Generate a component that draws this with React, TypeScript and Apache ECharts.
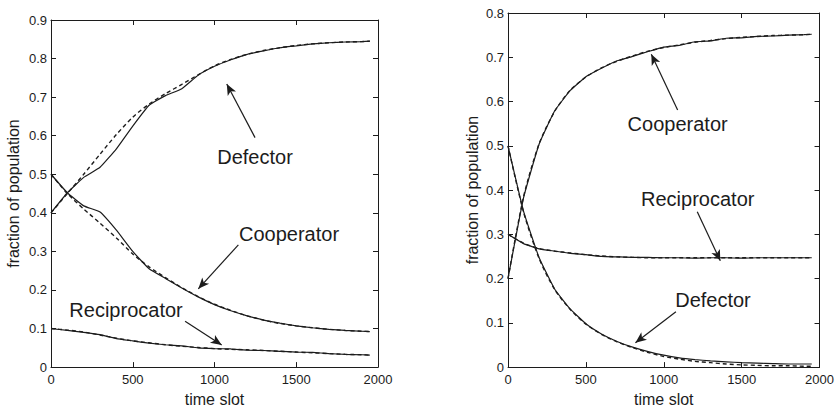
import React, { useEffect, useRef } from "react";
import * as echarts from "echarts";

const times = [0, 100, 200, 300, 400, 500, 600, 700, 800, 900, 1000, 1100, 1200, 1300, 1400, 1500, 1600, 1700, 1800, 1900, 1950];

// Left panel
const defectorModelL = [0.400, 0.450, 0.500, 0.552, 0.603, 0.648, 0.682, 0.709, 0.733, 0.758, 0.781, 0.798, 0.811, 0.821, 0.828, 0.834, 0.838, 0.841, 0.843, 0.844, 0.845];
const defectorSimL = [0.400, 0.452, 0.492, 0.518, 0.566, 0.625, 0.679, 0.704, 0.722, 0.757, 0.780, 0.797, 0.811, 0.820, 0.828, 0.833, 0.838, 0.841, 0.843, 0.844, 0.845];
const cooperatorModelL = [0.500, 0.450, 0.410, 0.373, 0.335, 0.293, 0.260, 0.232, 0.206, 0.183, 0.163, 0.147, 0.133, 0.122, 0.113, 0.107, 0.102, 0.098, 0.095, 0.093, 0.092];
const cooperatorSimL = [0.500, 0.452, 0.418, 0.402, 0.355, 0.300, 0.255, 0.230, 0.205, 0.182, 0.162, 0.146, 0.133, 0.122, 0.114, 0.107, 0.102, 0.098, 0.095, 0.093, 0.092];
const reciprocatorModelL = [0.100, 0.096, 0.091, 0.083, 0.075, 0.068, 0.063, 0.058, 0.054, 0.051, 0.048, 0.046, 0.045, 0.043, 0.041, 0.039, 0.037, 0.035, 0.033, 0.032, 0.031];
const reciprocatorSimL = [0.100, 0.095, 0.090, 0.084, 0.074, 0.068, 0.062, 0.058, 0.055, 0.050, 0.048, 0.047, 0.044, 0.043, 0.041, 0.039, 0.038, 0.035, 0.033, 0.032, 0.031];

// Right panel
const cooperatorModelR = [0.200, 0.385, 0.505, 0.578, 0.626, 0.655, 0.676, 0.691, 0.703, 0.714, 0.722, 0.728, 0.734, 0.738, 0.742, 0.745, 0.747, 0.749, 0.750, 0.751, 0.752];
const cooperatorSimR = [0.200, 0.383, 0.504, 0.579, 0.625, 0.656, 0.675, 0.692, 0.702, 0.713, 0.723, 0.727, 0.735, 0.737, 0.743, 0.744, 0.747, 0.748, 0.750, 0.751, 0.752];
const defectorModelR = [0.500, 0.350, 0.245, 0.175, 0.130, 0.097, 0.074, 0.057, 0.044, 0.033, 0.024, 0.018, 0.013, 0.010, 0.007, 0.005, 0.004, 0.003, 0.003, 0.002, 0.002];
const defectorSimR = [0.500, 0.352, 0.247, 0.176, 0.131, 0.098, 0.075, 0.058, 0.045, 0.035, 0.027, 0.021, 0.017, 0.014, 0.012, 0.010, 0.009, 0.008, 0.007, 0.007, 0.007];
const reciprocatorModelR = [0.300, 0.280, 0.268, 0.262, 0.258, 0.254, 0.251, 0.249, 0.248, 0.247, 0.247, 0.247, 0.247, 0.247, 0.247, 0.247, 0.247, 0.247, 0.247, 0.247, 0.247];
const reciprocatorSimR = [0.300, 0.279, 0.267, 0.262, 0.257, 0.254, 0.250, 0.249, 0.248, 0.248, 0.247, 0.247, 0.246, 0.247, 0.247, 0.246, 0.247, 0.247, 0.247, 0.247, 0.247];

// Annotations (data coordinates): label centre, arrow start, arrow tip
const annotationsL = [
  { text: "Defector", at: [1248, 0.546], from: [1248, 0.595], to: [1075, 0.734] },
  { text: "Cooperator", at: [1456, 0.345], from: [1146, 0.317], to: [901, 0.203] },
  { text: "Reciprocator", at: [459, 0.149], from: [820, 0.119], to: [1044, 0.0575] },
];
const annotationsR = [
  { text: "Cooperator", at: [1089, 0.549], from: [1089, 0.581], to: [920, 0.707] },
  { text: "Reciprocator", at: [1218, 0.38], from: [1215, 0.351], to: [1363, 0.24] },
  { text: "Defector", at: [1316, 0.151], from: [1078, 0.125], to: [818, 0.055] },
];

const FONT = "Liberation Sans, Arial, Helvetica, sans-serif";
const INK = "#1c1c1c";

function pairs(vals: number[]) {
  return times.map((t, i) => [t, vals[i]]);
}

function series(vals: number[], idx: number, model: boolean) {
  return {
    type: "line",
    xAxisIndex: idx,
    yAxisIndex: idx,
    data: pairs(vals),
    showSymbol: false,
    symbol: "none",
    smooth: model ? 0.25 : 0.12,
    silent: true,
    lineStyle: { color: INK, width: model ? 1.4 : 1.2, type: model ? [4, 3] : "solid" },
    z: model ? 3 : 2,
  };
}

function annSeries(anns: any[], idx: number) {
  return {
    type: "line",
    xAxisIndex: idx,
    yAxisIndex: idx,
    data: [],
    silent: true,
    markLine: {
      silent: true,
      symbol: ["none", "arrow"],
      symbolSize: [7, 11],
      label: { show: false },
      lineStyle: { color: INK, width: 1.2, type: "solid" },
      data: anns.map((a) => [{ coord: a.from }, { coord: a.to }]),
    },
    markPoint: {
      silent: true,
      symbol: "circle",
      symbolSize: 0,
      itemStyle: { color: "transparent" },
      label: {
        show: true,
        position: "inside",
        fontSize: 20,
        fontFamily: FONT,
        color: INK,
        formatter: (p: any) => p.name,
      },
      data: anns.map((a) => ({ name: a.text, coord: a.at })),
    },
  };
}

function xAxes(grid: number) {
  const base = {
    type: "value",
    gridIndex: grid,
    min: 0,
    max: 2000,
    interval: 500,
    splitLine: { show: false },
    axisLine: { show: true, onZero: false, lineStyle: { color: INK, width: 1 } },
    axisTick: { show: true, inside: true, length: 5, lineStyle: { color: INK } },
  };
  return [
    {
      ...base,
      position: "bottom",
      name: "time slot",
      nameLocation: "middle",
      nameGap: 21,
      nameTextStyle: { fontSize: 16, fontFamily: FONT, color: INK },
      axisLabel: {
        fontSize: 13,
        fontFamily: FONT,
        color: INK,
        margin: 6,
        formatter: (v: number) => String(v),
      },
    },
    { ...base, position: "top", axisLabel: { show: false } },
  ];
}

function yAxes(grid: number, max: number, gap: number) {
  const base = {
    type: "value",
    gridIndex: grid,
    min: 0,
    max,
    interval: 0.1,
    splitLine: { show: false },
    axisLine: { show: true, onZero: false, lineStyle: { color: INK, width: 1 } },
    axisTick: { show: true, inside: true, length: 5, lineStyle: { color: INK } },
  };
  return [
    {
      ...base,
      position: "left",
      name: "fraction of population",
      nameLocation: "middle",
      nameGap: gap,
      nameTextStyle: { fontSize: 16, fontFamily: FONT, color: INK },
      axisLabel: { fontSize: 13, fontFamily: FONT, color: INK, margin: 4 },
    },
    { ...base, position: "right", axisLabel: { show: false } },
  ];
}

export default function App() {
  const ref = useRef<HTMLDivElement>(null);
  useEffect(() => {
    if (!ref.current) return;
    const chart = echarts.init(ref.current, null, { renderer: "svg" });
    const x0 = xAxes(0);
    const x1 = xAxes(1);
    const y0 = yAxes(0, 0.9, 30);
    const y1 = yAxes(1, 0.8, 28);
    chart.setOption({
      animation: false,
      backgroundColor: "#ffffff",
      textStyle: { fontFamily: FONT },
      grid: [
        { left: 51, top: 20, width: 327, height: 348 },
        { left: 508, top: 13, width: 316, height: 360 },
      ],
      // order: 0 left-bottom, 1 left-top, 2 right-bottom, 3 right-top
      xAxis: [x0[0], x0[1], x1[0], x1[1]],
      yAxis: [y0[0], y0[1], y1[0], y1[1]],
      series: [
        series(defectorSimL, 0, false),
        series(defectorModelL, 0, true),
        series(cooperatorSimL, 0, false),
        series(cooperatorModelL, 0, true),
        series(reciprocatorSimL, 0, false),
        series(reciprocatorModelL, 0, true),
        annSeries(annotationsL, 0),
        series(cooperatorSimR, 2, false),
        series(cooperatorModelR, 2, true),
        series(defectorSimR, 2, false),
        series(defectorModelR, 2, true),
        series(reciprocatorSimR, 2, false),
        series(reciprocatorModelR, 2, true),
        annSeries(annotationsR, 2),
      ],
    });
    return () => chart.dispose();
  }, []);
  return (
    <div
      ref={ref}
      style={{ position: "fixed", left: 0, top: 0, width: 837, height: 412, background: "#fff" }}
    />
  );
}
